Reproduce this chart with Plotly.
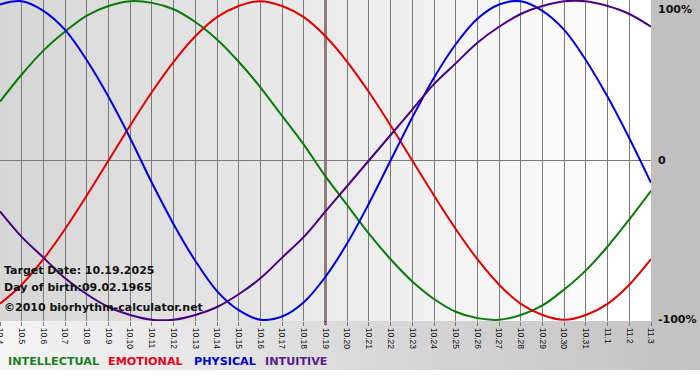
import plotly.graph_objects as go

# ---- data ----
dates = ["10.4", "10.5", "10.6", "10.7", "10.8", "10.9", "10.10", "10.11", "10.12", "10.13",
         "10.14", "10.15", "10.16", "10.17", "10.18", "10.19", "10.20", "10.21", "10.22", "10.23",
         "10.24", "10.25", "10.26", "10.27", "10.28", "10.29", "10.30", "10.31", "11.1", "11.2", "11.3"]

intellectual = [0.37, 0.54, 0.69, 0.81, 0.91, 0.97, 1.00, 0.99, 0.95, 0.87,
                0.76, 0.62, 0.46, 0.28, 0.10, -0.10, -0.28, -0.46, -0.62, -0.76,
                -0.87, -0.95, -0.99, -1.00, -0.97, -0.91, -0.81, -0.69, -0.54, -0.37, -0.19]
emotional = [-0.90, -0.78, -0.62, -0.43, -0.22, 0.00, 0.22, 0.43, 0.62, 0.78,
             0.90, 0.97, 1.00, 0.97, 0.90, 0.78, 0.62, 0.43, 0.22, 0.00,
             -0.22, -0.43, -0.62, -0.78, -0.90, -0.97, -1.00, -0.97, -0.90, -0.78, -0.62]
physical = [0.98, 1.00, 0.94, 0.82, 0.63, 0.40, 0.14, -0.14, -0.40, -0.63,
            -0.82, -0.94, -1.00, -0.98, -0.89, -0.73, -0.52, -0.27, 0.00, 0.27,
            0.52, 0.73, 0.89, 0.98, 1.00, 0.94, 0.82, 0.63, 0.40, 0.14, -0.14]
intuitive = [-0.32, -0.48, -0.61, -0.74, -0.84, -0.92, -0.97, -1.00, -1.00, -0.97,
             -0.92, -0.84, -0.74, -0.61, -0.48, -0.32, -0.16, 0.00, 0.16, 0.32,
             0.48, 0.61, 0.74, 0.84, 0.92, 0.97, 1.00, 1.00, 0.97, 0.92, 0.84]

target_date = "10.19"
y_ticks = [1, 0, -1]
y_labels = ["100%", "0", "-100%"]
series_names = ["INTELLECTUAL", "EMOTIONAL", "PHYSICAL", "INTUITIVE"]
info_lines = ["Target Date: 10.19.2025", "Day of birth:09.02.1965", "©2010 biorhythm-calculator.net"]

# ---- styling ----
line_colors = {"INTELLECTUAL": "#0a7a0a", "EMOTIONAL": "#e00000",
               "PHYSICAL": "#0000dd", "INTUITIVE": "#4b0082"}
legend_colors = {"INTELLECTUAL": "#1e7e1e", "EMOTIONAL": "#e8001c",
                 "PHYSICAL": "#0000cc", "INTUITIVE": "#551a8b"}

W, H = 700, 380
ML, MR, MT, MB = 0, 49, 0, 59
PW, PH = W - ML - MR, H - MT - MB  # plot area in px

xs = list(range(len(dates)))
fig = go.Figure()
for name, vals in zip(series_names, [intellectual, emotional, physical, intuitive]):
    fig.add_trace(go.Scatter(x=xs, y=vals, mode="lines", name=name,
                             line=dict(color=line_colors[name], width=2, shape="spline"),
                             hoverinfo="skip", showlegend=False))

shapes = []
# plot-area gradient (left grey -> right white)
N = 60
x0, x1 = 0, len(dates) - 1
for i in range(N):
    c = int(round(214 + (255 - 214) * i / (N - 1)))
    a = x0 + (x1 - x0) * i / N
    b = x0 + (x1 - x0) * (i + 1.05) / N
    shapes.append(dict(type="rect", xref="x", yref="paper", x0=a, x1=b, y0=0, y1=1,
                       fillcolor=f"rgb({c},{c},{c})", line=dict(width=0), layer="below"))
# right margin
shapes.append(dict(type="rect", xref="paper", yref="paper", x0=1, x1=W / PW, y0=0, y1=1,
                   fillcolor="#c0c0c0", line=dict(width=0), layer="below"))
# bottom band gradient (left light -> right grey)
yb = -(370 - PH) / PH
for i in range(N):
    c = int(round(243 + (194 - 243) * i / (N - 1)))
    a = (W / PW) * i / N
    b = (W / PW) * (i + 1.05) / N
    shapes.append(dict(type="rect", xref="paper", yref="paper", x0=a, x1=b, y0=yb, y1=0,
                       fillcolor=f"rgb({c},{c},{c})", line=dict(width=0), layer="below"))
# target date line
ti = dates.index(target_date)
shapes.append(dict(type="line", xref="x", yref="paper", x0=ti, x1=ti, y0=-4 / PH, y1=1,
                   line=dict(color="#561010", width=2), layer="between"))

annotations = []
# right-hand y labels
for v, t in zip(y_ticks, y_labels):
    top = (v == 1)
    annotations.append(dict(xref="paper", yref="paper" if top else "y", x=1 + 5 / PW,
                            y=1 if top else v, text=f"<b>{t}</b>", showarrow=False,
                            xanchor="left", yanchor="top" if top else "middle",
                            yshift=-1 if top else 0,
                            font=dict(family="DejaVu Sans", size=11, color="#111111")))
# info text, lower left
for t, py in zip(info_lines, [270, 287, 307]):
    annotations.append(dict(xref="paper", yref="paper", x=2 / PW, y=(PH - py) / PH,
                            text=f"<b>{t}</b>", showarrow=False, xanchor="left",
                            yanchor="middle",
                            font=dict(family="DejaVu Sans", size=11, color="#111111")))
# legend text
for name, px in zip(series_names, [6, 106, 192, 263]):
    annotations.append(dict(xref="paper", yref="paper", x=px / PW, y=(PH - 361) / PH,
                            text=f"<b>{name}</b>", showarrow=False, xanchor="left",
                            yanchor="middle",
                            font=dict(family="DejaVu Sans", size=11.2, color=legend_colors[name])))

fig.update_layout(
    width=W, height=H,
    margin=dict(l=ML, r=MR, t=MT, b=MB, pad=0, autoexpand=False),
    paper_bgcolor="white", plot_bgcolor="rgba(0,0,0,0)",
    shapes=shapes, annotations=annotations,
    xaxis=dict(range=[x0, x1], tickvals=xs, ticktext=dates, tickangle=90,
               showgrid=True, gridcolor="#7a7a7a", gridwidth=1,
               ticks="outside", ticklen=4, tickcolor="#7a7a7a", tickwidth=1,
               tickfont=dict(family="Liberation Sans", size=8.5, color="#111111"),
               ticklabeloverflow="allow", automargin=False,
               zeroline=False, showline=False, fixedrange=True),
    yaxis=dict(range=[-1.008, 1.008], showgrid=False, zeroline=True,
               zerolinecolor="#7a7a7a", zerolinewidth=1, showticklabels=False,
               showline=False, fixedrange=True, automargin=False),
    hovermode=False,
)

fig.write_html("out.html", config={"displayModeBar": False},
               post_script="document.body.style.margin='0px';")
